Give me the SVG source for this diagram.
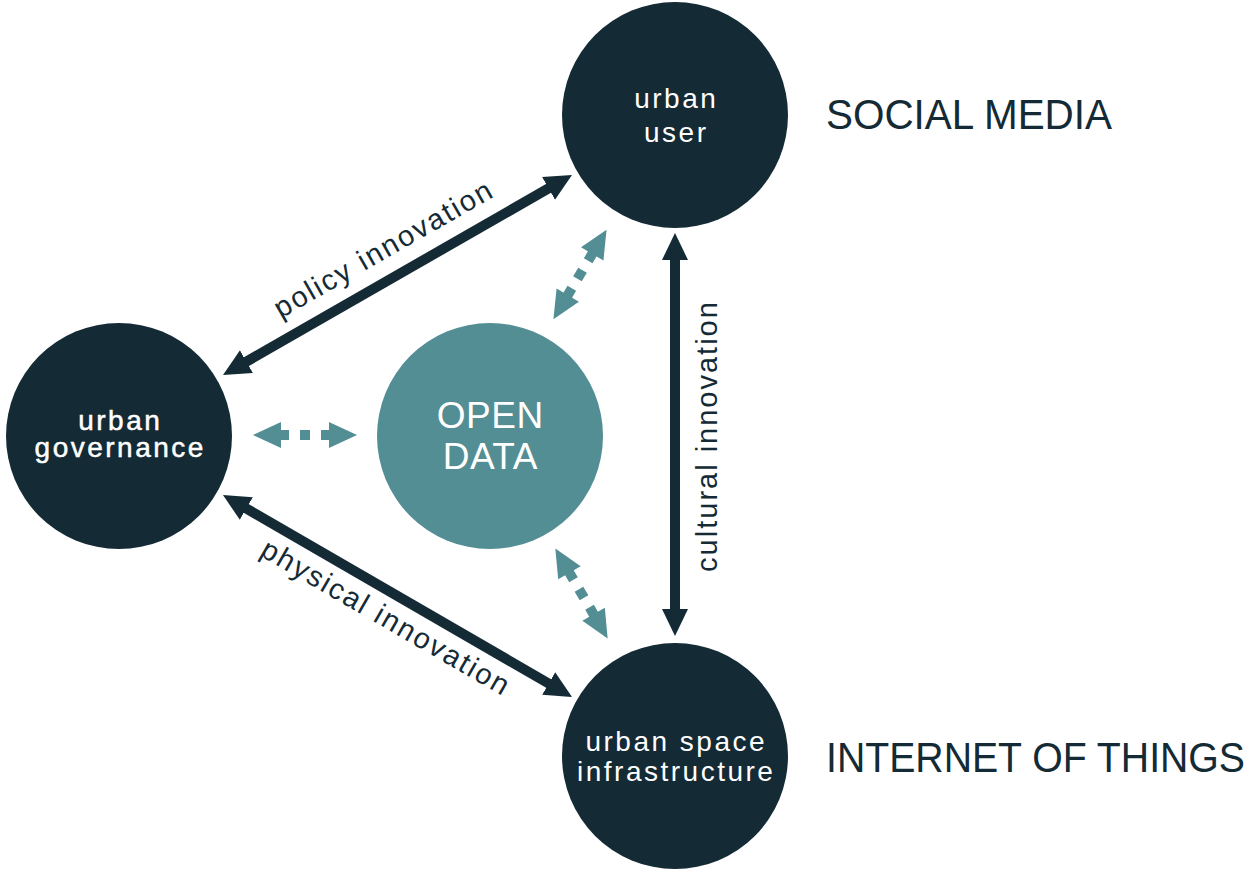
<svg xmlns="http://www.w3.org/2000/svg" width="1251" height="869" viewBox="0 0 1251 869">
<style>
  .dark { fill: #142a35; }
  .teal { fill: #528e94; }
  .ntext { font-family: "Liberation Sans", Arial, sans-serif; font-size: 28px; letter-spacing: 2.5px; fill: #ffffff; text-anchor: middle; }
  .otext { font-family: "Liberation Sans", Arial, sans-serif; font-size: 37px; letter-spacing: 0.5px; fill: #ffffff; text-anchor: middle; }
  .label { font-family: "Liberation Sans", Arial, sans-serif; font-size: 29px; letter-spacing: 2px; fill: #142a35; text-anchor: middle; }
  .side { font-family: "Liberation Sans", Arial, sans-serif; font-size: 43px; fill: #142a35; }
  .conn { stroke: #142a35; stroke-width: 10; fill: none; marker-start: url(#ah); marker-end: url(#ah); }
</style>
<defs>
  <marker id="ah" markerUnits="userSpaceOnUse" viewBox="0 -14 28 28" markerWidth="28" markerHeight="28" refX="8" refY="0" orient="auto-start-reverse">
    <path d="M0,-13 L27,0 L0,13 Z" fill="#142a35"/>
  </marker>
  <g id="dashArrow" fill="#528e94">
    <polygon points="-52,0 -24,-13 -24,13"/>
    <polygon points="52,0 24,-13 24,13"/>
    <rect x="-26" y="-5" width="10" height="10"/>
    <rect x="-5" y="-5" width="10" height="10"/>
    <rect x="16" y="-5" width="10" height="10"/>
  </g>
</defs>

<g id="connectors">
  <line class="conn" x1="239.5" y1="365.6" x2="555.5" y2="184.4"/>
  <line class="conn" x1="239.4" y1="504.5" x2="555.6" y2="687.5"/>
  <line class="conn" x1="675" y1="252" x2="675" y2="617"/>
  <use href="#dashArrow" transform="translate(305,435)"/>
  <use href="#dashArrow" transform="translate(580,274.5) rotate(-59.3)"/>
  <use href="#dashArrow" transform="translate(581.5,593.5) rotate(59.8)"/>
  <text class="label" transform="translate(397.5,275) rotate(-29.8)" x="1" y="-20">policy innovation</text>
  <text class="label" transform="translate(397.5,596) rotate(30.06)" x="1" y="34">physical innovation</text>
  <text class="label" transform="translate(717,437) rotate(-90)" x="1" y="0">cultural innovation</text>
</g>

<g id="node-urban-user">
  <circle class="dark" cx="675" cy="115" r="113"/>
  <text class="ntext" x="676.25" y="108">urban</text>
  <text class="ntext" x="676.25" y="142">user</text>
</g>

<g id="node-urban-governance">
  <circle class="dark" cx="119" cy="436" r="113"/>
  <text class="ntext" x="120.25" y="429.5" stroke="#ffffff" stroke-width="0.5">urban</text>
  <text class="ntext" x="120.25" y="456.5" stroke="#ffffff" stroke-width="0.5">governance</text>
</g>

<g id="node-urban-space-infrastructure">
  <circle class="dark" cx="675" cy="756" r="113"/>
  <text class="ntext" x="676.25" y="751">urban space</text>
  <text class="ntext" x="676.25" y="781">infrastructure</text>
</g>

<g id="node-open-data">
  <circle class="teal" cx="490" cy="436" r="113"/>
  <text class="otext" x="490.25" y="428">OPEN</text>
  <text class="otext" x="490.25" y="469">DATA</text>
</g>

<g id="side-labels">
  <text class="side" x="826" y="129" textLength="286" lengthAdjust="spacingAndGlyphs">SOCIAL MEDIA</text>
  <text class="side" x="826" y="772" textLength="419" lengthAdjust="spacingAndGlyphs">INTERNET OF THINGS</text>
</g>
</svg>
